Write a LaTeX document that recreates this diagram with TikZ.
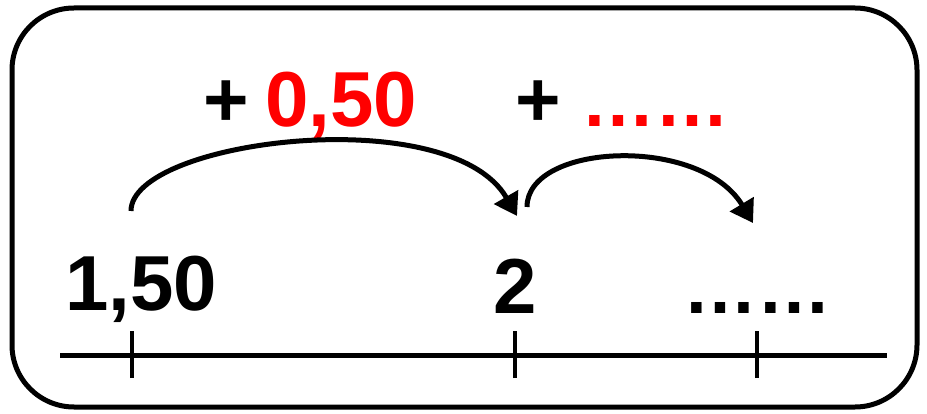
\documentclass[tikz,border=0pt]{standalone}
\usepackage{fontspec}
\setmainfont{Liberation Sans}
\usetikzlibrary{arrows.meta}
\definecolor{pred}{RGB}{255,0,0}
\tikzset{
  big/.style={font=\bfseries\fontsize{78}{80}\selectfont, inner sep=0pt, anchor=base},
  dots/.style={font=\bfseries\fontsize{74}{76}\selectfont, inner sep=0pt, anchor=base},
  jump/.style={line width=5pt, -{Triangle[length=22pt,width=27pt]}},
  tick/.style={line width=3.5pt},
}
\begin{document}
\begin{tikzpicture}[x=1pt,y=-1pt]
\useasboundingbox (0,0) rectangle (927,414);
% frame
\draw[line width=5pt, rounded corners=62pt] (12,8) rectangle (917,407);
% number line
\coordinate (L) at (60,355);
\coordinate (R) at (887,355);
\draw[line width=5pt] (L) -- (R);
\coordinate (t1) at (132,355);
\coordinate (t2) at (515,355);
\coordinate (t3) at (757,355);
\foreach \t in {t1,t2,t3}
  \draw[tick] ([yshift=-23pt]\t) -- ([yshift=24pt]\t);
% labels under jumps
\node[big] (a) at (141,310) {1,50};
\node[big] (b) at (515,314) {2};
\node[dots] (c) at (757,313) {……};
% top labels
\node[big] (p1) at (226,127) {+};
\node[big, text=pred] (v1) at (341,127) {0,50};
\node[big] (p2) at (538,127) {+};
\node[dots, text=pred] (v2) at (655,127) {……};
% jumps
\coordinate (s1) at (131,211);
\coordinate (e1) at (517,216);
\coordinate (s2) at (527,207);
\coordinate (e2) at (753,223);
\draw[jump] (s1) .. controls (131,140) and (450,100) .. (e1);
\draw[jump] (s2) .. controls (527,143) and (700,135) .. (e2);
\end{tikzpicture}
\end{document}
